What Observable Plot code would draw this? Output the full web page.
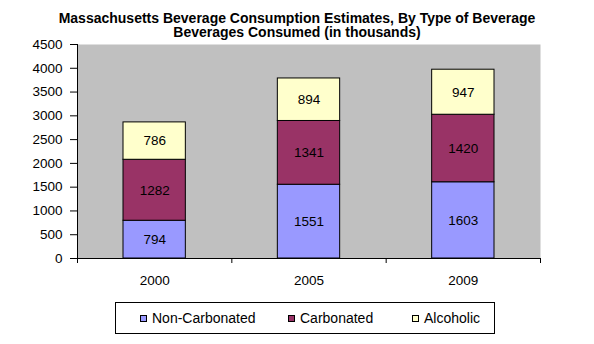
<!DOCTYPE html>
<html>
<head>
<meta charset="utf-8">
<script src="https://cdn.jsdelivr.net/npm/d3@7"></script>
<script src="https://cdn.jsdelivr.net/npm/@observablehq/plot@0.6"></script>
<style>
  html, body { margin: 0; padding: 0; background: #fff; }
  #wrap { position: relative; width: 594px; height: 344px; font-family: "Liberation Sans", Arial, sans-serif; }
  #title { position: absolute; left: 0; top: 11px; width: 594px; text-align: center; font-weight: bold; font-size: 14px; line-height: 14px; color: #000; }
  #chart { position: absolute; left: 0; top: 0; }
  #legend { position: absolute; left: 115px; top: 302px; width: 380px; height: 32px; border: 1px solid #000; box-sizing: border-box; font-size: 14px; }
  .item { position: absolute; top: 7px; display: flex; align-items: center; white-space: nowrap; line-height: 16px; }
  .sw { width: 5px; height: 5px; border: 1px solid #000; margin-right: 5px; }
</style>
</head>
<body>
<div id="wrap">
  <div id="chart"></div>
  <div id="title"></div>
  <div id="legend"></div>
</div>
<script>
const titleLines = ["Massachusetts Beverage Consumption Estimates, By Type of Beverage", "Beverages Consumed (in thousands)"];
const years = ["2000", "2005", "2009"];
const types = ["Non-Carbonated", "Carbonated", "Alcoholic"];
const colors = ["#9999FF", "#993366", "#FFFFCC"];
const nonCarbonated = [794, 1551, 1603];
const carbonated = [1282, 1341, 1420];
const alcoholic = [786, 894, 947];
const yTicks = [0, 500, 1000, 1500, 2000, 2500, 3000, 3500, 4000, 4500];

const series = [nonCarbonated, carbonated, alcoholic];
const rows = [];
years.forEach((yr, i) => {
  let base = 0;
  series.forEach((s, k) => {
    rows.push({i, year: yr, type: types[k], value: s[i], y1: base, y2: base + s[i]});
    base += s[i];
  });
});

document.getElementById("title").innerHTML = titleLines.map(t => `<div>${t}</div>`).join("");

const chart = Plot.plot({
  width: 594,
  height: 344,
  marginLeft: 77,
  marginRight: 54,
  marginTop: 44,
  marginBottom: 86,
  style: {fontFamily: "'Liberation Sans', Arial, sans-serif", fontSize: "13.5px", color: "#000", background: "transparent"},
  x: {domain: [0, 3]},
  y: {domain: [0, 4500]},
  color: {domain: types, range: colors},
  marks: [
    Plot.frame({fill: "#C0C0C0", stroke: null}),
    Plot.rect(rows, {x1: d => d.i, x2: d => d.i + 1, y1: "y1", y2: "y2", fill: "type", stroke: "#000", strokeWidth: 1, insetLeft: 46, insetRight: 46}),
    Plot.text(rows, {x: d => d.i + 0.5, y: d => (d.y1 + d.y2) / 2, text: d => String(d.value), fill: "#000", fontSize: 13.5}),
    Plot.axisY({ticks: yTicks, tickSize: 7, tickPadding: 8, tickFormat: d => String(d), stroke: "#000", fontSize: 13.5}),
    Plot.axisX({ticks: [0, 1, 2, 3], tickSize: 5, tickFormat: () => "", stroke: "#000"}),
    Plot.axisX({ticks: [0.5, 1.5, 2.5], tickSize: 0, tickPadding: 17, tickFormat: d => years[Math.floor(d)], fontSize: 13.5}),
    Plot.ruleX([0], {stroke: "#000"}),
    Plot.ruleY([0], {stroke: "#000"})
  ]
});
document.getElementById("chart").appendChild(chart);

const legendPos = [[24, "Non-Carbonated"], [172, "Carbonated"], [296, "Alcoholic"]];
const legend = document.getElementById("legend");
types.forEach((t, k) => {
  const el = document.createElement("div");
  el.className = "item";
  el.style.left = legendPos[k][0] + "px";
  el.innerHTML = `<span class="sw" style="background:${colors[k]}"></span><span>${t}</span>`;
  legend.appendChild(el);
});
</script>
</body>
</html>
